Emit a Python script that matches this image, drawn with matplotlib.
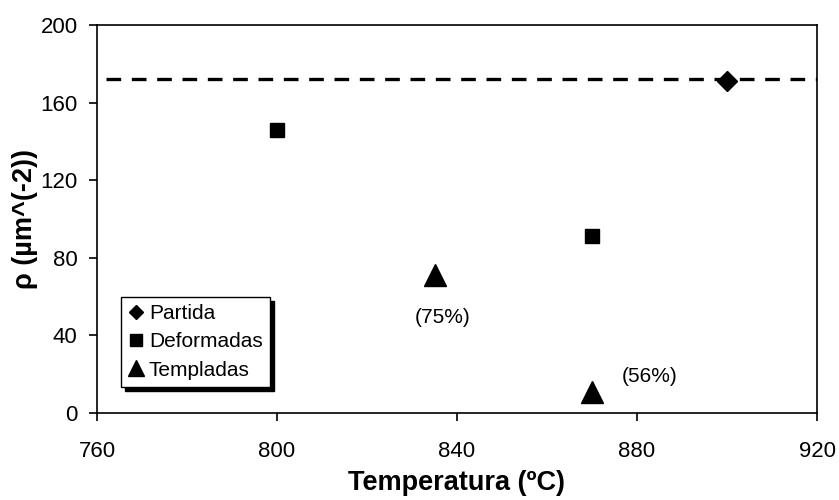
import matplotlib
matplotlib.use('Agg')
import matplotlib.pyplot as plt

plt.rcParams['font.family'] = ['Liberation Sans', 'DejaVu Sans']

# datos
partida_T = [900]
partida_rho = [171]
deform_T = [800, 870]
deform_rho = [146, 91]
templ_T = [835, 870]
templ_rho = [71, 11]
templ_labels = ['(75%)', '(56%)']
rho_ref = 172

fig = plt.figure(figsize=(8.39, 5.0), dpi=100)
ax = fig.add_axes([97/839, 87/500, 720/839, 388/500])

ax.plot([762, 920], [rho_ref, rho_ref], color='k', lw=2.4, dashes=(4.4, 3.2), zorder=1)
ax.plot(partida_T, partida_rho, 'D', color='k', ms=10, label='Partida', zorder=3)
ax.plot(deform_T, deform_rho, 's', color='k', ms=10.3, label='Deformadas', zorder=3)
ax.plot(templ_T, templ_rho, '^', color='k', ms=15.5, label='Templadas', zorder=3)

ax.text(836.7, 49, templ_labels[0], fontsize=15, ha='center', va='center')
ax.text(882.9, 18.6, templ_labels[1], fontsize=15, ha='center', va='center')

ax.set_xlim(760, 920)
ax.set_ylim(0, 200)
ax.set_xticks([760, 800, 840, 880, 920])
ax.set_yticks([0, 40, 80, 120, 160, 200])
ax.tick_params(direction='out', length=6, width=1.2, labelsize=16, pad=8)
ax.tick_params(axis='x', pad=14)
for s in ax.spines.values():
    s.set_linewidth(1.2)

ax.set_xlabel('Temperatura (ºC)', fontsize=19.5, fontweight='bold', labelpad=6)
ax.set_ylabel('ρ (µm^(-2))', fontsize=19.5, fontweight='bold', labelpad=2)

leg = ax.legend(loc='lower left', bbox_to_anchor=(0.033, 0.067), fontsize=15,
                handlelength=0.8, handletextpad=0.2,
                borderpad=0.35, labelspacing=0.45, borderaxespad=0,
                fancybox=False, framealpha=1, edgecolor='k',
                shadow={'ox': 3, 'oy': -3, 'color': 'k', 'alpha': 1})
leg.get_frame().set_linewidth(1.0)
for h, m in zip(leg.legend_handles, [7.2, 9.2, 11]):
    h.set_markersize(m)

fig.savefig('out.png', dpi=100)
